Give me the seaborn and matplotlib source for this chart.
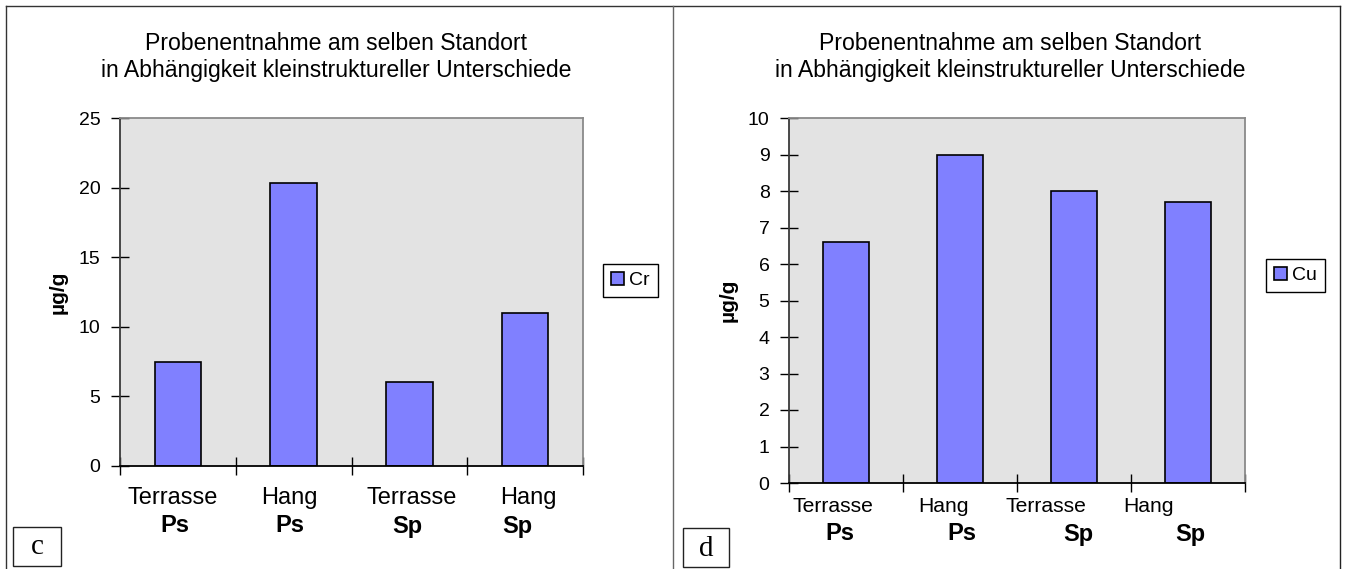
import matplotlib
matplotlib.use("Agg")
import matplotlib.pyplot as plt
import matplotlib.transforms as mtransforms
from matplotlib.patches import Rectangle
from matplotlib.lines import Line2D
import pandas as pd
import seaborn as sns

# ---- data -------------------------------------------------------------
sites = ["Terrasse", "Hang", "Terrasse", "Hang"]
species = ["Ps", "Ps", "Sp", "Sp"]
cr_values = [7.5, 20.3, 6.0, 11.0]
cu_values = [6.6, 9.0, 8.0, 7.7]
title_lines = ["Probenentnahme am selben Standort",
               "in Abhängigkeit kleinstruktureller Unterschiede"]
y_label = "µg/g"

# ---- figure setup -----------------------------------------------------
W, H, DPI = 1348, 569, 100
plt.rcParams["font.family"] = ["Liberation Sans", "DejaVu Sans"]

BAR_COLOR = "#8080FF"
PLOT_BG = "#E3E3E3"

fig = plt.figure(figsize=(W / DPI, H / DPI), dpi=DPI)
fig.patch.set_facecolor("white")


def fx(px):
    return px / W


def fy(py):
    return 1 - py / H


def fig_line(x0, y0, x1, y1, color, lw=1.0):
    fig.add_artist(Line2D([fx(x0), fx(x1)], [fy(y0), fy(y1)],
                          transform=fig.transFigure, color=color, lw=lw))


def draw_panel(values, element, box, ymax, ystep, title_cx, title_base,
               ylabel_x, legend_xy, top_fs, top_dy, bot_dy,
               top_shift, bot_shift, letter, letter_box):
    x0, y0, x1, y1 = box
    ax = fig.add_axes([fx(x0), fy(y1), fx(x1) - fx(x0), fy(y0) - fy(y1)])
    keys = [f"{s}\n{p}" for s, p in zip(sites, species)]
    df = pd.DataFrame({"key": keys, "value": values, "element": element})
    sns.barplot(data=df, x="key", y="value", hue="element", order=keys,
                palette=[BAR_COLOR], width=0.4, dodge=False,
                edgecolor="black", linewidth=1.2, saturation=1, ax=ax)
    ax.set_facecolor(PLOT_BG)
    ax.set_xlim(-0.5, len(keys) - 0.5)
    ax.set_ylim(0, ymax)
    ax.set_yticks(range(0, ymax + 1, ystep))
    ax.set_xticks([i - 0.5 for i in range(len(keys) + 1)])
    ax.set_xticklabels([])
    ax.set_xlabel("")
    ax.set_ylabel("")
    ax.grid(False)
    ax.tick_params(axis="both", direction="inout", length=13, width=1,
                   color="black", labelsize=14, pad=7.5)
    for side, col in (("top", "#8a8a8a"), ("right", "#8a8a8a"),
                      ("left", "#3a3a3a"), ("bottom", "black")):
        ax.spines[side].set_color(col)
        ax.spines[side].set_linewidth(1.3)

    # two-line category labels below the axis
    for i, (s, p) in enumerate(zip(sites, species)):
        t1 = mtransforms.offset_copy(ax.get_xaxis_transform(), fig=fig,
                                     x=top_shift[i], y=-top_dy, units="dots")
        ax.text(i, 0, s, transform=t1, ha="center", va="center",
                fontsize=top_fs, clip_on=False)
        t2 = mtransforms.offset_copy(ax.get_xaxis_transform(), fig=fig,
                                     x=bot_shift[i], y=-bot_dy, units="dots")
        ax.text(i, 0, p, transform=t2, ha="center", va="center",
                fontsize=17, fontweight="bold", clip_on=False)

    # legend
    handles, labels = ax.get_legend_handles_labels()
    if ax.get_legend() is not None:
        ax.get_legend().remove()
    leg = ax.legend(handles, labels, loc="center left",
                    bbox_to_anchor=(fx(legend_xy[0]), fy(legend_xy[1])),
                    bbox_transform=fig.transFigure, frameon=True,
                    fancybox=False, shadow=False, framealpha=1,
                    edgecolor="black", fontsize=14, handlelength=0.7,
                    handleheight=0.7, handletextpad=0.25, borderpad=0.4,
                    borderaxespad=0)
    leg.get_frame().set_linewidth(1.0)

    # title
    for line, yb in zip(title_lines, title_base):
        fig.text(fx(title_cx), fy(yb), line, ha="center", va="baseline",
                 fontsize=16.6)

    # y-axis label
    fig.text(fx(ylabel_x), fy((y0 + y1) / 2), y_label, rotation=90,
             ha="center", va="center", fontsize=15, fontweight="bold")

    # panel letter in a small box
    bx0, by0, bx1, by1 = letter_box
    fig.add_artist(Rectangle((fx(bx0), fy(by1)), fx(bx1) - fx(bx0),
                             fy(by0) - fy(by1), transform=fig.transFigure,
                             fill=False, edgecolor="#222222", lw=1))
    fig.text(fx((bx0 + bx1) / 2), fy((by0 + by1) / 2 + 1), letter,
             ha="center", va="center", fontsize=21, family="Liberation Serif")
    return ax


draw_panel(cr_values, "Cr", box=(120, 118, 583, 466), ymax=25, ystep=5,
           title_cx=336, title_base=(50, 77), ylabel_x=58,
           legend_xy=(603, 280.5), top_fs=17, top_dy=32, bot_dy=60,
           top_shift=[-5, -4, 2, 3], bot_shift=[-3.5, -3.5, -2.5, -7.5],
           letter="c", letter_box=(13, 527, 61, 566))

draw_panel(cu_values, "Cu", box=(789, 118, 1245, 483), ymax=10, ystep=1,
           title_cx=1010, title_base=(50, 77), ylabel_x=728,
           legend_xy=(1266, 275.5), top_fs=15.2, top_dy=24, bot_dy=51,
           top_shift=[-13.5, -17, -28, -39.5], bot_shift=[-6.5, 2, 4, 2],
           letter="d", letter_box=(683, 528, 729, 567))

# outer frame and divider between the two charts
fig_line(6, 6, 1340, 6, "#333333")
fig_line(6, 6, 6, 569, "#333333")
fig_line(1340, 6, 1340, 569, "#222222")
fig_line(673, 6, 673, 569, "#666666")

fig.savefig("out.png", dpi=DPI, facecolor="white")
